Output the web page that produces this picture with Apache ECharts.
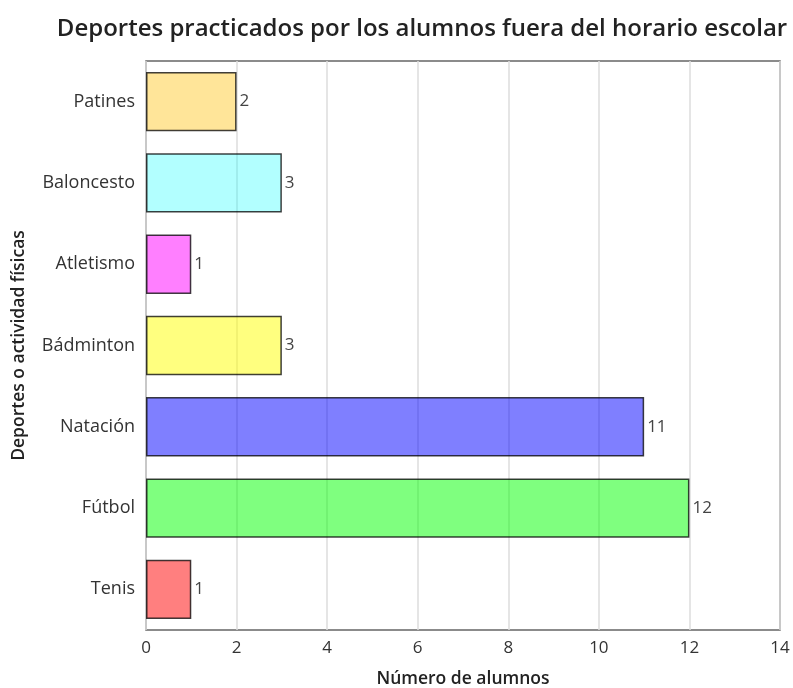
<!DOCTYPE html>
<html><head><meta charset="utf-8">
<script src="https://cdn.jsdelivr.net/npm/echarts@6/dist/echarts.min.js"></script>
<style>html,body{margin:0;padding:0;background:#fff}#c{width:793px;height:688px}</style>
</head><body><div id="c"></div>
<script>
const categories = ['Patines','Baloncesto','Atletismo','Bádminton','Natación','Fútbol','Tenis'];
const values = [2,3,1,3,11,12,1];
const colors = ['rgba(255,203,51,0.5)','rgba(0,255,255,0.3)','rgba(255,0,255,0.5)','rgba(255,255,0,0.5)','rgba(0,0,255,0.5)','rgba(0,255,0,0.5)','rgba(255,0,0,0.5)'];
const xTicks = [0,2,4,6,8,10,12,14];
const font = '"Open Sans", sans-serif';
const chart = echarts.init(document.getElementById('c'));
chart.setOption({
  animation:false,
  title:{text:'Deportes practicados por los alumnos fuera del horario escolar', left:417, textAlign:'center', top:12,
    textStyle:{fontFamily:font,fontSize:24,fontWeight:600,color:'#222'}},
  grid:{left:146,right:13,top:61,bottom:58,show:true,borderColor:'#666',borderWidth:1.5,containLabel:false,outerBoundsMode:'none'},
  xAxis:{type:'value',min:xTicks[0],max:xTicks[xTicks.length-1],interval:2,
    name:'Número de alumnos',nameLocation:'middle',nameGap:40,
    nameTextStyle:{fontFamily:font,fontSize:17.5,fontWeight:600,color:'#222'},
    axisLine:{show:false},axisTick:{show:false},
    axisLabel:{fontFamily:font,fontSize:17,color:'#333',margin:10},
    splitLine:{lineStyle:{color:'#ddd',width:1.5}}},
  yAxis:{type:'category',data:categories,inverse:true,
    name:'Deportes o actividad físicas',nameLocation:'middle',nameGap:118,
    nameTextStyle:{fontFamily:font,fontSize:17.5,fontWeight:600,color:'#222'},
    axisLine:{show:false},axisTick:{show:false},
    axisLabel:{fontFamily:font,fontSize:18,color:'#333',margin:11}},
  series:[{type:'bar',barCategoryGap:'27%',
    data:values.map((v,i)=>({value:v,itemStyle:{color:colors[i]}})),
    itemStyle:{borderColor:'rgba(0,0,0,0.75)',borderWidth:1.5},
    label:{show:true,position:'right',distance:3,fontFamily:font,fontSize:17,color:'#444'}}]
});
</script></body></html>
